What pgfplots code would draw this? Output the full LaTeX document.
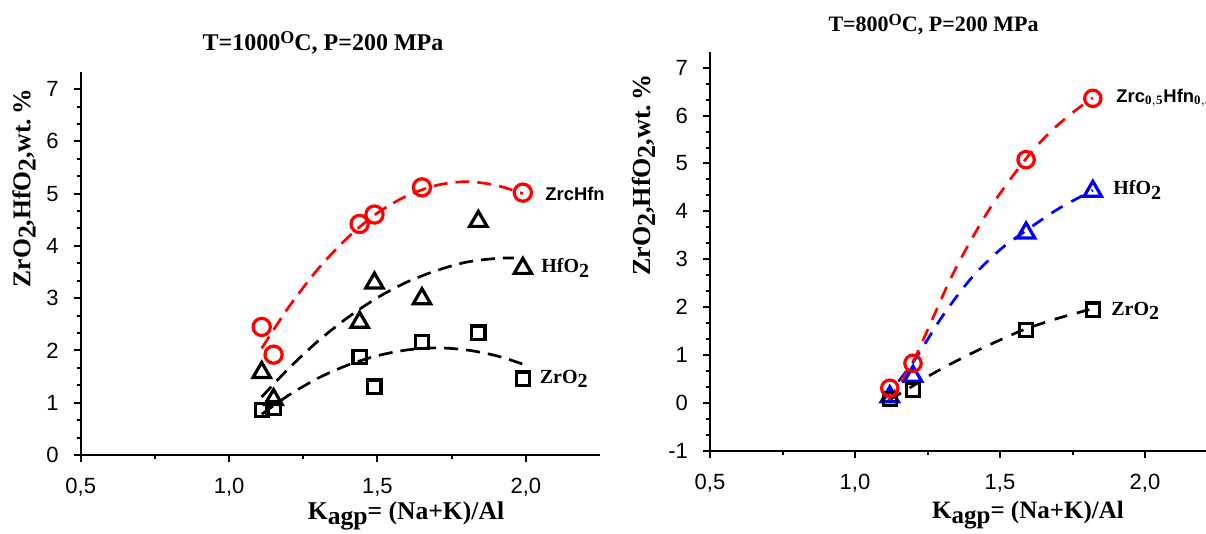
\documentclass[border=0pt]{standalone}
\usepackage{pgfplots}
\pgfplotsset{compat=1.18}
\usepackage{fontspec}
\setmainfont{Liberation Serif}
\newfontfamily\arial{Liberation Sans}

% lowered, nearly full size index as in the original figure
\newcommand{\sub}[1]{\raisebox{-0.45ex}{#1}}

\pgfplotsset{
  panel/.style={
    scale only axis,
    axis x line*=bottom,
    axis y line*=left,
    axis line style={line width=1pt},
    xmin=0.5, xmax=2.25,
    ymax=7.3333,
    xtick={0.5,1,1.5,2},
    xticklabels={{0,5},{1,0},{1,5},{2,0}},
    minor x tick num=1,
    minor y tick num=2,
    tick align=outside,
    major tick length=3.5pt,
    minor tick length=2pt,
    every tick/.style={line width=1pt, black},
    /pgf/number format/assume math mode=true,
    ticklabel style={font=\arial\fontsize{11}{12}\selectfont},
    yticklabel style={xshift=-4pt},
    xticklabel style={yshift=-4.5pt},
    clip=false,
  },
  fit/.style={line width=1.35pt, dash pattern=on 7pt off 4pt, smooth},
  pts/.style={only marks, mark options={line width=1.6pt, solid}},
}

\begin{document}
\begin{tikzpicture}[x=0.5pt,y=0.5pt]
\useasboundingbox (0,0) rectangle (1206,534);

% ---------- left panel: T=1000 C ----------
\begin{axis}[panel, at={(40.35pt,39.5pt)}, anchor=south west,
  width=259.65pt, height=191.65pt, ymin=0, ytick={0,1,...,7}]
  \addplot[fit, red] coordinates {
    (1.11,2.04) (1.2,2.82) (1.3,3.56) (1.4,4.16) (1.5,4.63) (1.6,4.96)
    (1.7,5.16) (1.8,5.23) (1.9,5.16) (1.99,5.0)};
  \addplot[fit, black] coordinates {
    (1.11,1.11) (1.2,1.65) (1.3,2.18) (1.4,2.63) (1.5,3.01) (1.6,3.31)
    (1.7,3.53) (1.8,3.69) (1.9,3.76) (1.96,3.77)};
  \addplot[fit, black] coordinates {
    (1.11,0.78) (1.2,1.14) (1.3,1.47) (1.4,1.72) (1.5,1.90) (1.6,2.01)
    (1.7,2.05) (1.8,2.01) (1.9,1.90) (1.99,1.74)};
  \addplot[pts, red, mark=o, mark size=4.3pt] coordinates {
    (1.11,2.45) (1.15,1.92) (1.44,4.42) (1.49,4.60) (1.65,5.12) (1.99,5.02)};
  \addplot[pts, black, mark=triangle, mark size=5pt] coordinates {
    (1.11,1.58) (1.15,1.06) (1.44,2.54) (1.49,3.29) (1.65,2.99) (1.84,4.47) (1.99,3.57)};
  \addplot[pts, black, mark=square, mark size=3.3pt] coordinates {
    (1.11,0.86) (1.15,0.90) (1.44,1.87) (1.49,1.31) (1.65,2.16) (1.84,2.34) (1.99,1.46)};
\end{axis}

% ---------- right panel: T=800 C ----------
\begin{axis}[panel, at={(355pt,41.5pt)}, anchor=south west,
  width=253.75pt, height=199.65pt, ymin=-1, ytick={-1,0,...,7}]
  \addplot[fit, blue, dash pattern=on 6.5pt off 5pt] coordinates {
    (1.10,0.08) (1.2,0.85) (1.3,1.8) (1.4,2.6) (1.5,3.2) (1.59,3.6)
    (1.7,4.05) (1.82,4.44)};
  \addplot[pts, blue, mark=triangle, mark size=5pt] coordinates {
    (1.12,0.13) (1.20,0.56) (1.59,3.55) (1.82,4.42)};
  \addplot[fit, black, dash pattern=on 6.5pt off 5pt] coordinates {
    (1.12,0.07) (1.2,0.36) (1.27,0.62) (1.35,0.88) (1.44,1.15) (1.52,1.37)
    (1.59,1.55) (1.70,1.77) (1.82,1.97)};
  \addplot[pts, black, mark=square, mark size=3.3pt] coordinates {
    (1.12,0.08) (1.20,0.27) (1.59,1.53) (1.82,1.95)};
  \addplot[fit, red, dash pattern=on 6.5pt off 5pt] coordinates {
    (1.115,0.05) (1.2,0.87) (1.26,1.66) (1.33,2.6) (1.40,3.4) (1.48,4.2)
    (1.587,5.08) (1.67,5.64) (1.75,6.06) (1.82,6.37)};
  \addplot[pts, red, mark=o, mark size=4.1pt] coordinates {
    (1.12,0.31) (1.20,0.83) (1.59,5.08) (1.82,6.36)};
\end{axis}

% titles and axis labels
\node[font=\bfseries\fontsize{12}{14}\selectfont] at (323,491)
  {T=1000\raisebox{0.6ex}{\fontsize{9}{9}\selectfont O}C, P=200 MPa};
\node[font=\bfseries\fontsize{11}{13}\selectfont] at (933.5,509)
  {T=800\raisebox{0.6ex}{\fontsize{8.5}{9}\selectfont O}C, P=200 MPa};
\node[rotate=90, font=\bfseries\fontsize{12.8}{14}\selectfont] at (24,346)
  {ZrO\sub{2},HfO\sub{2},wt.\,\%};
\node[rotate=90, font=\bfseries\fontsize{13}{14}\selectfont] at (644,359)
  {ZrO\sub{2},HfO\sub{2},wt.\,\%};
\node[font=\bfseries\fontsize{12.8}{14}\selectfont] at (406,18)
  {K\sub{agp}= (Na+K)/Al};
\node[font=\bfseries\fontsize{12.5}{14}\selectfont] at (1028,19)
  {K\sub{agp}= (Na+K)/Al};

% curve names
\node[anchor=west, inner sep=0, font=\arial\bfseries\fontsize{9.2}{11}\selectfont] at (545,340.5) {ZrcHfn};
\node[anchor=west, inner sep=0, font=\bfseries\fontsize{10}{12}\selectfont] at (541,266) {HfO\sub{2}};
\node[anchor=west, inner sep=0, font=\bfseries\fontsize{10}{12}\selectfont] at (539.5,155) {ZrO\sub{2}};
\node[anchor=west, inner sep=0, font=\arial\bfseries\fontsize{9.2}{11}\selectfont] at (1116,436)
  {Zrc$_{\mathbf{0,5}}$Hfn$_{\mathbf{0,5}}$};
\node[anchor=west, inner sep=0, font=\bfseries\fontsize{10}{12}\selectfont] at (1113,344) {HfO\sub{2}};
\node[anchor=west, inner sep=0, font=\bfseries\fontsize{10}{12}\selectfont] at (1111,223) {ZrO\sub{2}};
\end{tikzpicture}
\end{document}
